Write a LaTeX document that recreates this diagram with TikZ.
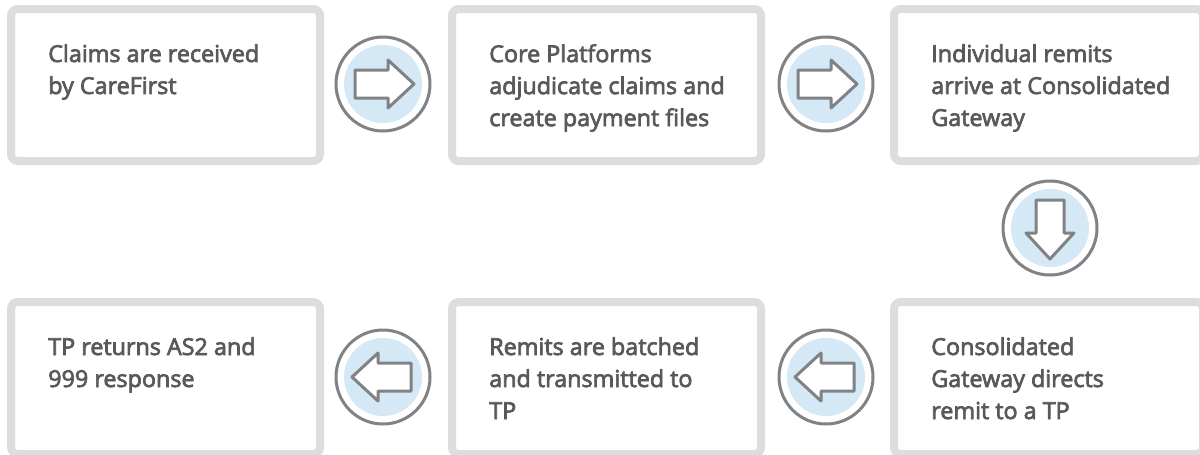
\documentclass[tikz,border=0pt]{standalone}
\usepackage{fontspec}
\setmainfont{Open Sans}
\newfontfamily\stepfont{Open Sans}[FakeBold=3]
\definecolor{boxgray}{HTML}{DCDDDE}
\definecolor{ringgray}{HTML}{808285}
\definecolor{iconblue}{HTML}{D4E8F5}
\definecolor{textgray}{HTML}{58595B}
\tikzset{
  stepbox/.style={draw=boxgray,line width=6pt,rounded corners=5pt,fill=white,minimum width=231.75pt,minimum height=114pt,inner sep=0pt},
  steptext/.style={anchor=north west,align=left,inner sep=0pt,text=textgray,font=\stepfont\fontsize{17.5}{24}\selectfont},
  ring/.style={circle,draw=ringgray,line width=2.25pt,fill=white,minimum size=70.5pt,inner sep=0pt,
    path picture={\fill[iconblue](path picture bounding box.center) circle (29.25pt);}},
  icon/.style={draw=ringgray,line width=2.25pt,line join=round,fill=white}
}
\begin{document}
\begin{tikzpicture}[x=0.75pt,y=-0.75pt]
\useasboundingbox (0,0) rectangle (1200,454);
\node[stepbox](b1) at (165.5,85){};
\node[stepbox](b2) at (606.5,85){};
\node[stepbox](b3) at (1048.5,85){};
\node[stepbox](b4) at (1048.5,378){};
\node[stepbox](b5) at (606.5,378){};
\node[stepbox](b6) at (165.5,378){};
\node[steptext](t1) at ([shift={(41,39)}]b1.north west){Claims are received\\by CareFirst};
\node[steptext](t2) at ([shift={(41,39)}]b2.north west){Core Platforms\\adjudicate claims and\\create payment files};
\node[steptext](t3) at ([shift={(41,39)}]b3.north west){Individual remits\\arrive at Consolidated\\Gateway};
\node[steptext](t4) at ([shift={(41,39)}]b4.north west){Consolidated\\Gateway directs\\remit to a TP};
\node[steptext](t5) at ([shift={(41,39)}]b5.north west){Remits are batched\\and transmitted to\\TP};
\node[steptext](t6) at ([shift={(41,39)}]b6.north west){TP returns AS2 and\\999 response};
\node[ring](c1) at (383,84){};
\node[ring](c2) at (826,84){};
\node[ring](c3) at (1050,228){};
\node[ring](c4) at (826,377){};
\node[ring](c5) at (383,377){};
\draw[icon,shift={(c1.center)}] (-28,-14)--(5,-14)--(5,-24)--(31,0)--(5,24)--(5,14)--(-28,14)--cycle;
\draw[icon,shift={(c2.center)}] (-28,-14)--(5,-14)--(5,-24)--(31,0)--(5,24)--(5,14)--(-28,14)--cycle;
\draw[icon,shift={(c3.center)},rotate=-90] (-28,-14)--(5,-14)--(5,-24)--(31,0)--(5,24)--(5,14)--(-28,14)--cycle;
\draw[icon,shift={(c4.center)},rotate=180] (-28,-14)--(5,-14)--(5,-24)--(31,0)--(5,24)--(5,14)--(-28,14)--cycle;
\draw[icon,shift={(c5.center)},rotate=180] (-28,-14)--(5,-14)--(5,-24)--(31,0)--(5,24)--(5,14)--(-28,14)--cycle;
\end{tikzpicture}
\end{document}
